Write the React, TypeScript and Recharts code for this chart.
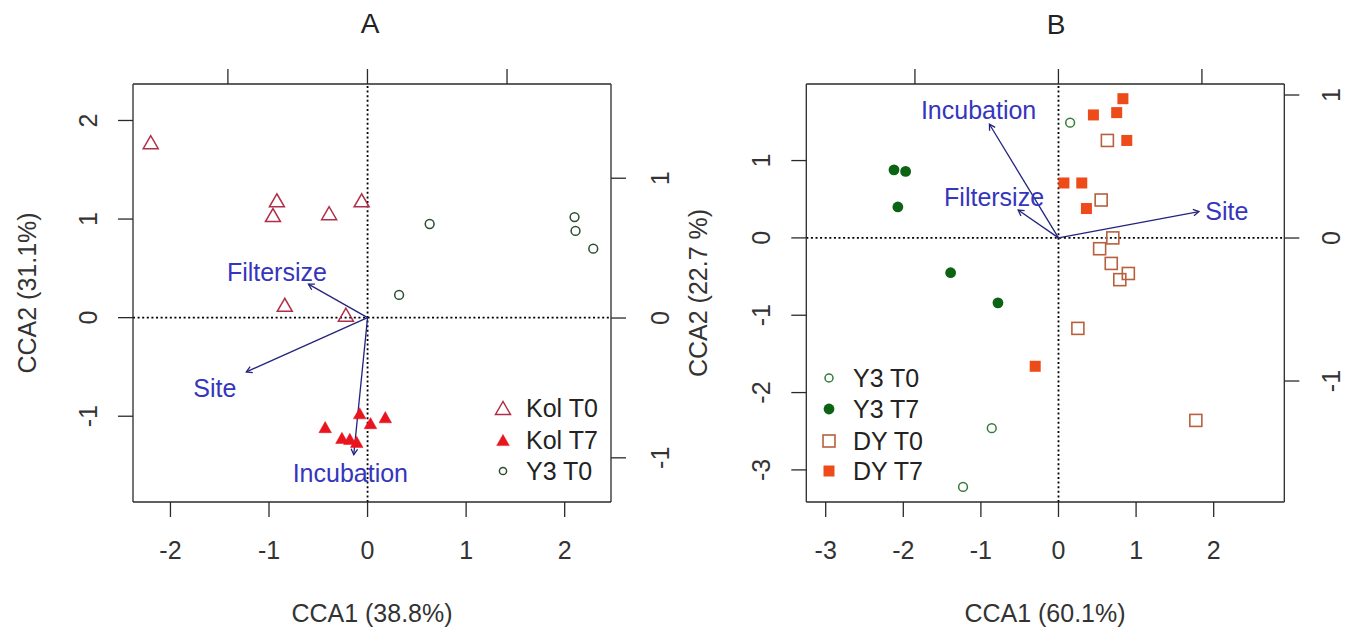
import React from 'react';
import { ScatterChart, Scatter, XAxis, YAxis, ReferenceLine, ReferenceDot, Customized } from 'recharts';

const FONT = '"Liberation Sans", Arial, Helvetica, sans-serif';

// ---------- Panel A data ----------
const kolT0 = [
  { x: -2.2, y: 1.78 }, { x: -0.92, y: 1.19 }, { x: -0.96, y: 1.04 }, { x: -0.39, y: 1.06 },
  { x: -0.06, y: 1.19 }, { x: -0.84, y: 0.13 }, { x: -0.22, y: 0.03 },
];
const kolT7 = [
  { x: -0.08, y: -0.97 }, { x: 0.18, y: -1.01 }, { x: 0.03, y: -1.07 }, { x: -0.43, y: -1.11 },
  { x: -0.26, y: -1.22 }, { x: -0.18, y: -1.23 }, { x: -0.11, y: -1.26 },
];
const y3T0A = [
  { x: 0.63, y: 0.95 }, { x: 0.32, y: 0.23 }, { x: 2.1, y: 1.02 }, { x: 2.11, y: 0.88 }, { x: 2.29, y: 0.7 },
];
const arrowsA = [
  { name: 'Filtersize', x: -0.6, y: 0.34, lx: -0.92, ly: 0.46 },
  { name: 'Site', x: -1.23, y: -0.55, lx: -1.55, ly: -0.71 },
  { name: 'Incubation', x: -0.14, y: -1.39, lx: -0.175, ly: -1.58 },
];
const domainAx = [-2.38, 2.47];
const domainAy = [-1.87, 2.37];
const domainAtop = [-1.68, 1.745];
const domainAright = [-1.316, 1.674];
const ticksAx = [-2, -1, 0, 1, 2];
const ticksAy = [-1, 0, 1, 2];
const ticksAtop = [-1, 0, 1];
const ticksAright = [-1, 0, 1];

// ---------- Panel B data ----------
const y3T0B = [{ x: 0.15, y: 1.49 }, { x: -0.86, y: -2.46 }, { x: -1.23, y: -3.22 }];
const y3T7 = [
  { x: -2.12, y: 0.88 }, { x: -1.97, y: 0.86 }, { x: -2.07, y: 0.4 }, { x: -1.39, y: -0.45 }, { x: -0.78, y: -0.84 },
];
const dyT0 = [
  { x: 0.63, y: 1.26 }, { x: 0.55, y: 0.49 }, { x: 0.7, y: 0.0 }, { x: 0.53, y: -0.14 }, { x: 0.68, y: -0.33 },
  { x: 0.9, y: -0.46 }, { x: 0.79, y: -0.54 }, { x: 0.25, y: -1.17 }, { x: 1.77, y: -2.36 },
];
const dyT7 = [
  { x: 0.83, y: 1.8 }, { x: 0.45, y: 1.59 }, { x: 0.75, y: 1.62 }, { x: 0.88, y: 1.26 },
  { x: 0.07, y: 0.71 }, { x: 0.3, y: 0.71 }, { x: 0.36, y: 0.38 }, { x: -0.3, y: -1.66 },
];
const arrowsB = [
  { name: 'Incubation', x: -0.89, y: 1.47, lx: -1.03, ly: 1.66 },
  { name: 'Filtersize', x: -0.52, y: 0.36, lx: -0.83, ly: 0.53 },
  { name: 'Site', x: 1.81, y: 0.34, lx: 2.17, ly: 0.35 },
];
const domainBx = [-3.25, 2.91];
const domainBy = [-3.415, 1.99];
const domainBtop = [-1.757, 1.574];
const domainBright = [-1.846, 1.077];
const ticksBx = [-3, -2, -1, 0, 1, 2];
const ticksBy = [-3, -2, -1, 0, 1];
const ticksBtop = [-1, 0, 1];
const ticksBright = [-1, 0, 1];

// ---------- colours ----------
const C_KOL0 = '#B02E48';
const C_KOL7 = '#E8141E';
const C_Y3A = '#2B4F2E';
const C_Y3B0 = '#347A38';
const C_Y3B7 = '#0A6414';
const C_DY0 = '#B8603E';
const C_DY7 = '#EE4B1A';
const C_ARROW = '#23237E';
const C_ATEXT = '#3535BE';
const C_AXIS = '#2a2a2a';
const C_TEXT = '#333333';

// ---------- shapes ----------
const openTri = (color: string) => (p: any) => {
  const { cx, cy } = p;
  const w = 7.5, h = 6.5;
  return <polygon points={`${cx},${cy - h} ${cx - w},${cy + h} ${cx + w},${cy + h}`} fill="none" stroke={color} strokeWidth={1.5} />;
};
const fillTri = (color: string) => (p: any) => {
  const { cx, cy } = p;
  const w = 6.3, h = 5.6;
  return <polygon points={`${cx},${cy - h} ${cx - w},${cy + h} ${cx + w},${cy + h}`} fill={color} stroke={color} strokeWidth={0.5} />;
};
const openCircle = (color: string, r = 4.4) => (p: any) => (
  <circle cx={p.cx} cy={p.cy} r={r} fill="none" stroke={color} strokeWidth={1.5} />
);
const fillCircle = (color: string) => (p: any) => <circle cx={p.cx} cy={p.cy} r={5.4} fill={color} />;
const openSquare = (color: string) => (p: any) => (
  <rect x={p.cx - 6} y={p.cy - 6} width={12} height={12} fill="none" stroke={color} strokeWidth={1.6} />
);
const fillSquare = (color: string) => (p: any) => (
  <rect x={p.cx - 5.5} y={p.cy - 5.5} width={11} height={11} fill={color} />
);

const arrowShape = (p: any) => {
  const { x1, y1, x2, y2 } = p;
  const ang = Math.atan2(y2 - y1, x2 - x1);
  const L = 6.5, a = Math.PI / 6;
  const hx1 = x2 - L * Math.cos(ang - a), hy1 = y2 - L * Math.sin(ang - a);
  const hx2 = x2 - L * Math.cos(ang + a), hy2 = y2 - L * Math.sin(ang + a);
  return (
    <g>
      <line x1={x1} y1={y1} x2={x2} y2={y2} stroke={C_ARROW} strokeWidth={1.3} />
      <polyline points={`${hx1},${hy1} ${x2},${y2} ${hx2},${hy2}`} fill="none" stroke={C_ARROW} strokeWidth={1.3} />
    </g>
  );
};
const labelShape = (text: string) => (p: any) => (
  <text x={p.cx} y={p.cy} dy="0.36em" textAnchor="middle" fontSize={25} fontFamily={FONT} fill={C_ATEXT}>{text}</text>
);

// ---------- ticks ----------
const BottomTick = (p: any) => (
  <text x={p.x} y={p.y} dy="0.71em" textAnchor="middle" fontSize={25} fontFamily={FONT} fill={C_TEXT}>{p.payload.value}</text>
);
const SideTick = (p: any) => (
  <text transform={`rotate(-90 ${p.x} ${p.y})`} x={p.x} y={p.y} dy="0.36em" textAnchor="middle" fontSize={25} fontFamily={FONT} fill={C_TEXT}>{p.payload.value}</text>
);
const NoTick = () => <g />;

const axisStyle = { stroke: C_AXIS, strokeWidth: 1.3 };

type Sym = { label: string; shape: (p: any) => any };

const LegendBox = ({ x, tx, ys, items }: { x: number; tx: number; ys: number[]; items: Sym[] }) => (
  <g>
    {items.map((it, i) => (
      <g key={it.label}>
        {it.shape({ cx: x, cy: ys[i] })}
        <text x={tx} y={ys[i]} dy="0.36em" fontSize={25} fontFamily={FONT} fill="#222">{it.label}</text>
      </g>
    ))}
  </g>
);

const vLabel = (x: number, y: number, text: string) => (
  <text transform={`rotate(-90 ${x} ${y})`} x={x} y={y} dy="0.36em" textAnchor="middle" fontSize={25} fontFamily={FONT} fill={C_TEXT}>{text}</text>
);

function Panel(props: {
  width: number; leftW: number; rightW: number;
  dx: number[]; dy: number[]; dtop: number[]; dright: number[];
  tx: number[]; ty: number[]; ttop: number[]; tright: number[];
  leftMargin: number; rightMargin: number;
  series: { name: string; data: any[]; shape: any }[];
  arrows: { name: string; x: number; y: number; lx: number; ly: number }[];
  overlay: React.ReactNode;
}) {
  const p = props;
  return (
    <ScatterChart width={p.width} height={631} margin={{ top: 0, right: 0, bottom: 0, left: 0 }}>
      <XAxis xAxisId="b" orientation="bottom" type="number" dataKey="x" domain={p.dx} allowDataOverflow ticks={p.tx}
        height={129} tickSize={15} tickMargin={24} axisLine={axisStyle} tickLine={axisStyle} tick={BottomTick} interval={0} />
      <XAxis xAxisId="t" orientation="top" type="number" dataKey="x" domain={p.dtop} allowDataOverflow ticks={p.ttop}
        height={84} tickSize={15} axisLine={axisStyle} tickLine={axisStyle} tick={NoTick} interval={0} />
      <YAxis yAxisId="l" orientation="left" type="number" dataKey="y" domain={p.dy} allowDataOverflow ticks={p.ty}
        width={p.leftW} tickSize={15} tickMargin={p.leftMargin} axisLine={axisStyle} tickLine={axisStyle} tick={SideTick} interval={0} />
      <YAxis yAxisId="r" orientation="right" type="number" dataKey="y" domain={p.dright} allowDataOverflow ticks={p.tright}
        width={p.rightW} tickSize={15} tickMargin={p.rightMargin} axisLine={axisStyle} tickLine={axisStyle} tick={SideTick} interval={0} />
      <ReferenceLine xAxisId="b" yAxisId="l" x={0} stroke="#000" strokeWidth={1.8} strokeDasharray="2 2.6" />
      <ReferenceLine xAxisId="b" yAxisId="l" y={0} stroke="#000" strokeWidth={1.8} strokeDasharray="2 2.6" />
      {p.arrows.map((a) => (
        <ReferenceLine key={'l' + a.name} xAxisId="b" yAxisId="l" segment={[{ x: 0, y: 0 }, { x: a.x, y: a.y }]}
          ifOverflow="visible" shape={arrowShape} />
      ))}
      {p.arrows.map((a) => (
        <ReferenceDot key={'t' + a.name} xAxisId="b" yAxisId="l" x={a.lx} y={a.ly} r={1} ifOverflow="visible"
          shape={labelShape(a.name)} />
      ))}
      {p.series.map((s) => (
        <Scatter key={s.name} name={s.name} xAxisId="b" yAxisId="l" data={s.data} shape={s.shape} isAnimationActive={false} />
      ))}
      <Customized component={() => <g>{p.overlay}</g>} />
    </ScatterChart>
  );
}

export default function App() {
  return (
    <div style={{ position: 'absolute', left: 0, top: 0, width: 1351, height: 631, background: '#fff' }}>
      <div style={{ position: 'absolute', left: 0, top: 0 }}>
        <Panel
          width={680} leftW={133} rightW={69}
          dx={domainAx} dy={domainAy} dtop={domainAtop} dright={domainAright}
          tx={ticksAx} ty={ticksAy} ttop={ticksAtop} tright={ticksAright}
          leftMargin={29.5} rightMargin={34}
          series={[
            { name: 'Kol T0', data: kolT0, shape: openTri(C_KOL0) },
            { name: 'Kol T7', data: kolT7, shape: fillTri(C_KOL7) },
            { name: 'Y3 T0', data: y3T0A, shape: openCircle(C_Y3A, 4.4) },
          ]}
          arrows={arrowsA}
          overlay={
            <g>
              <text x={370} y={23} dy="0.36em" textAnchor="middle" fontSize={28} fontFamily={FONT} fill="#222">A</text>
              <text x={372} y={613} dy="0.36em" textAnchor="middle" fontSize={25} fontFamily={FONT} fill={C_TEXT}>CCA1 (38.8%)</text>
              {vLabel(27, 293, 'CCA2 (31.1%)')}
              <LegendBox x={503} tx={526} ys={[408, 440, 471]} items={[
                { label: 'Kol T0', shape: openTri(C_KOL0) },
                { label: 'Kol T7', shape: fillTri(C_KOL7) },
                { label: 'Y3 T0', shape: openCircle(C_Y3A, 3.6) },
              ]} />
            </g>
          }
        />
      </div>
      <div style={{ position: 'absolute', left: 680, top: 0 }}>
        <Panel
          width={671} leftW={126.3} rightW={66.7}
          dx={domainBx} dy={domainBy} dtop={domainBtop} dright={domainBright}
          tx={ticksBx} ty={ticksBy} ttop={ticksBtop} tright={ticksBright}
          leftMargin={30.3} rightMargin={31.7}
          series={[
            { name: 'Y3 T0', data: y3T0B, shape: openCircle(C_Y3B0, 4.4) },
            { name: 'Y3 T7', data: y3T7, shape: fillCircle(C_Y3B7) },
            { name: 'DY T0', data: dyT0, shape: openSquare(C_DY0) },
            { name: 'DY T7', data: dyT7, shape: fillSquare(C_DY7) },
          ]}
          arrows={arrowsB}
          overlay={
            <g>
              <text x={376} y={24} dy="0.36em" textAnchor="middle" fontSize={28} fontFamily={FONT} fill="#222">B</text>
              <text x={365} y={613} dy="0.36em" textAnchor="middle" fontSize={25} fontFamily={FONT} fill={C_TEXT}>CCA1 (60.1%)</text>
              {vLabel(18, 293, 'CCA2 (22.7 %)')}
              <LegendBox x={149} tx={173} ys={[378, 409, 441, 471]} items={[
                { label: 'Y3 T0', shape: openCircle(C_Y3B0, 4) },
                { label: 'Y3 T7', shape: fillCircle(C_Y3B7) },
                { label: 'DY T0', shape: openSquare(C_DY0) },
                { label: 'DY T7', shape: fillSquare(C_DY7) },
              ]} />
            </g>
          }
        />
      </div>
    </div>
  );
}
